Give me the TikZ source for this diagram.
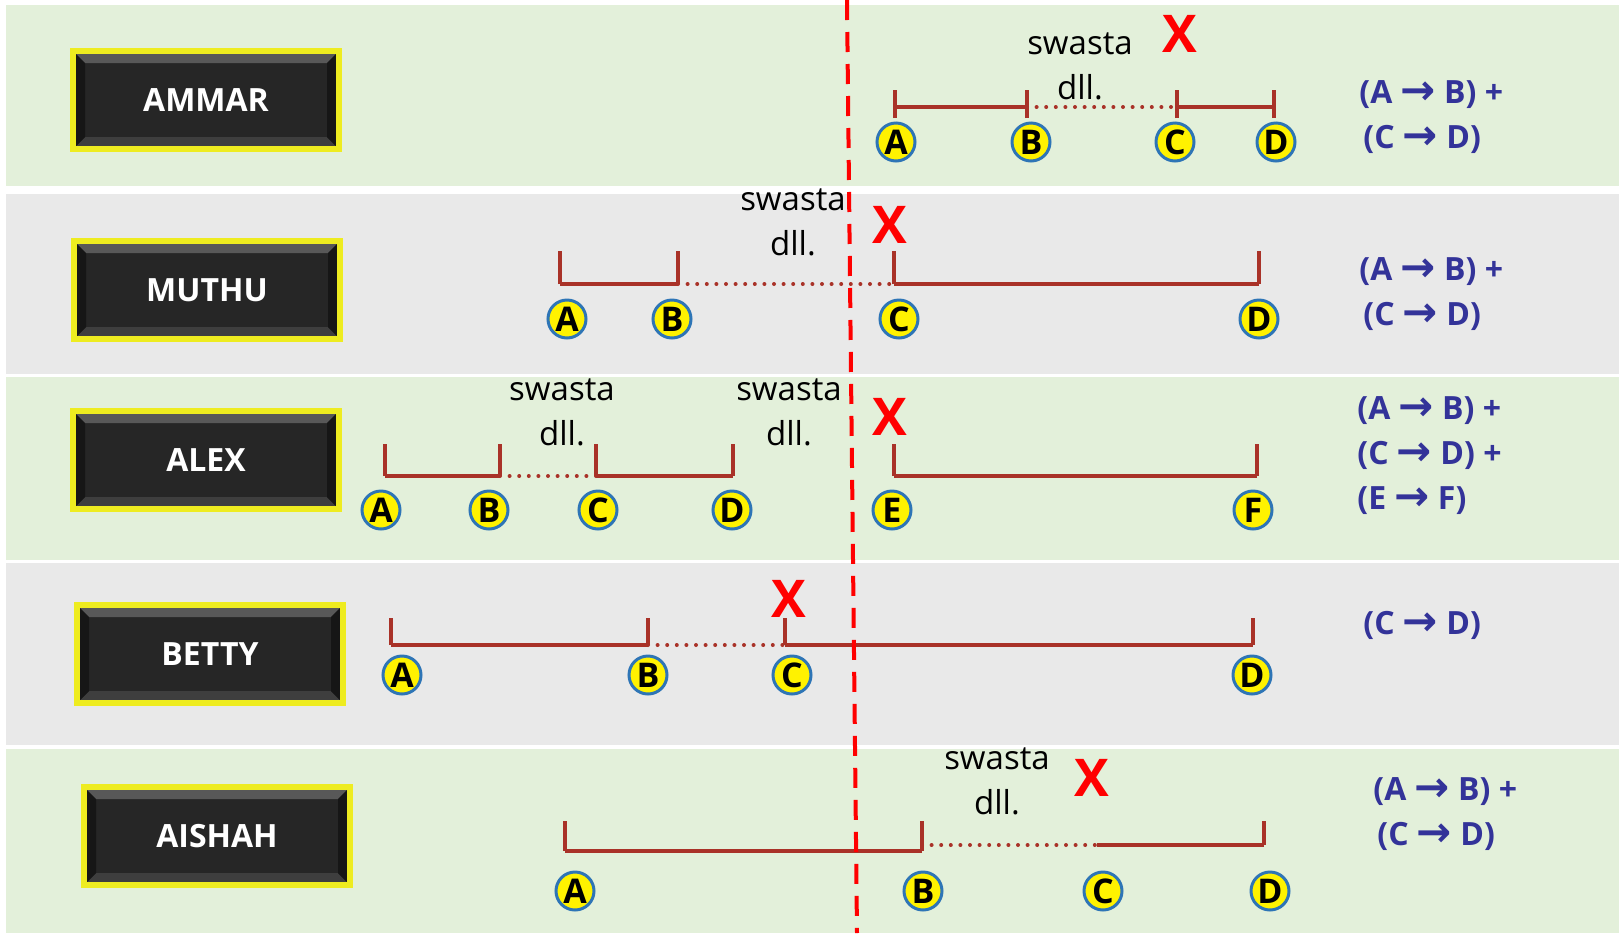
\documentclass[tikz,border=0pt]{standalone}
\usepackage{fontspec}
\setmainfont{Open Sans}
\newfontfamily\arrowfont{DejaVu Sans}

\definecolor{rowgreen}{RGB}{227,240,218}
\definecolor{rowgray}{RGB}{233,233,233}
\definecolor{segred}{RGB}{169,50,40}
\definecolor{txtblue}{RGB}{51,51,153}
\definecolor{ringblue}{RGB}{46,117,182}
\definecolor{frameyellow}{RGB}{238,236,32}
\definecolor{frameedge}{RGB}{150,150,100}
\definecolor{boxblack}{RGB}{38,38,38}
\definecolor{bevelhi}{RGB}{88,88,88}
\definecolor{bevello}{RGB}{62,62,62}
\definecolor{bevelside}{RGB}{22,22,22}

\newcommand{\arr}{\raisebox{-0.5pt}{\arrowfont\bfseries\fontsize{21}{21}\selectfont\symbol{"2192}}}

\begin{document}
\begin{tikzpicture}[x=0.5pt, y=-0.5pt,
    namebox/.style={draw=frameyellow, line width=2.6pt, fill=boxblack,
        preaction={draw=frameedge, line width=3.4pt},
        minimum width=133pt, minimum height=49pt, text=white,
        font=\bfseries\fontsize{16}{19}\selectfont,
        path picture={
            \fill[bevelhi] ([shift={(1pt,-1pt)}]path picture bounding box.north west) -- ([shift={(-1pt,-1pt)}]path picture bounding box.north east)
                -- ([shift={(-6pt,-6pt)}]path picture bounding box.north east) -- ([shift={(6pt,-6pt)}]path picture bounding box.north west) -- cycle;
            \fill[bevello] ([shift={(1pt,1pt)}]path picture bounding box.south west) -- ([shift={(-1pt,1pt)}]path picture bounding box.south east)
                -- ([shift={(-6pt,6pt)}]path picture bounding box.south east) -- ([shift={(6pt,6pt)}]path picture bounding box.south west) -- cycle;
            \fill[bevelside] ([shift={(1pt,-1pt)}]path picture bounding box.north west) -- ([shift={(6pt,-6pt)}]path picture bounding box.north west)
                -- ([shift={(6pt,6pt)}]path picture bounding box.south west) -- ([shift={(1pt,1pt)}]path picture bounding box.south west) -- cycle;
            \fill[bevelside] ([shift={(-1pt,-1pt)}]path picture bounding box.north east) -- ([shift={(-6pt,-6pt)}]path picture bounding box.north east)
                -- ([shift={(-6pt,6pt)}]path picture bounding box.south east) -- ([shift={(-1pt,1pt)}]path picture bounding box.south east) -- cycle;
        }},
    pt/.style={circle, draw=ringblue, line width=1.5pt, fill=yellow, minimum size=19pt, inner sep=0pt,
        font=\bfseries\fontsize{17}{17}\selectfont},
    span/.style={draw=segred, line width=2pt},
    gap/.style={draw=segred, line width=2pt, line cap=round, dash pattern=on 0pt off 4.8pt},
    note/.style={align=center, inner sep=0pt, font=\fontsize{16.5}{22.5}\selectfont},
    cross/.style={text=red, inner sep=0pt, font=\bfseries\fontsize{26}{26}\selectfont},
    sum/.style={anchor=west, align=left, text=txtblue, inner sep=0pt, font=\bfseries\fontsize{16}{22.5}\selectfont},
    cut/.style={draw=red, line width=2pt, dash pattern=on 10pt off 6pt}]

    \useasboundingbox (0,0) rectangle (1619,933);
    \fill[white] (0,0) rectangle (1619,933);
    % row bands
    \fill[rowgreen] (6,5) rectangle (1619,186);
    \fill[rowgray] (6,194) rectangle (1619,374);
    \fill[rowgreen] (6,377) rectangle (1619,560);
    \fill[rowgray] (6,563) rectangle (1619,745);
    \fill[rowgreen] (6,749) rectangle (1619,933);

    % names
    \node[namebox] (ammar) at (206,100) {AMMAR};
    \node[namebox] (muthu) at (207,290) {MUTHU};
    \node[namebox] (alex) at (206,460) {ALEX};
    \node[namebox] (betty) at (210,654) {BETTY};
    \node[namebox] (aishah) at (217,836) {AISHAH};

    % AMMAR
    \coordinate (am_a) at (895,107);
    \coordinate (am_b) at (1027,107);
    \coordinate (am_c) at (1177,107);
    \coordinate (am_d) at (1274,107);
    \path (am_a) edge[span] (am_b)
          (am_b) edge[gap] (am_c)
          (am_c) edge[span] (am_d);
    \foreach \t in {am_a,am_b,am_c,am_d}
        \draw[span] ([yshift=-5.5pt]\t) -- ([yshift=8.5pt]\t);
    \node[pt] (am_A) at (896,142) {A};
    \node[pt] (am_B) at (1031,142) {B};
    \node[pt] (am_C) at (1175,142) {C};
    \node[pt] (am_D) at (1276,142) {D};
    \node[note] (am_note) at (1080,66) {swasta\\dll.};
    \node[cross] (am_x) at (1180,34) {X};
    \node[sum] (am_sum) at (1359,117) {(A \arr{} B) +\\\hspace{2pt}(C \arr{} D)};

    % MUTHU
    \coordinate (mu_a) at (560,284);
    \coordinate (mu_b) at (678,284);
    \coordinate (mu_c) at (894,284);
    \coordinate (mu_d) at (1259,284);
    \path (mu_a) edge[span] (mu_b)
          (mu_b) edge[gap] (mu_c)
          (mu_c) edge[span] (mu_d);
    \foreach \t in {mu_a,mu_b,mu_c,mu_d}
        \draw[span] (\t) -- ++(0,-33);
    \node[pt] (mu_A) at (567,319) {A};
    \node[pt] (mu_B) at (672,319) {B};
    \node[pt] (mu_C) at (899,319) {C};
    \node[pt] (mu_D) at (1259,319) {D};
    \node[note] (mu_note) at (793,222) {swasta\\dll.};
    \node[cross] (mu_x) at (890,225) {X};
    \node[sum] (mu_sum) at (1359,294) {(A \arr{} B) +\\\hspace{2pt}(C \arr{} D)};

    % ALEX
    \coordinate (al_a) at (385,476);
    \coordinate (al_b) at (500,476);
    \coordinate (al_c) at (596,476);
    \coordinate (al_d) at (733,476);
    \coordinate (al_e) at (894,476);
    \coordinate (al_f) at (1257,476);
    \path (al_a) edge[span] (al_b)
          (al_b) edge[gap] (al_c)
          (al_c) edge[span] (al_d)
          (al_e) edge[span] (al_f);
    \foreach \t in {al_a,al_b,al_c,al_d,al_e,al_f}
        \draw[span] (\t) -- ++(0,-32);
    \node[pt] (al_A) at (381,510) {A};
    \node[pt] (al_B) at (489,510) {B};
    \node[pt] (al_C) at (598,510) {C};
    \node[pt] (al_D) at (732,510) {D};
    \node[pt] (al_E) at (892,510) {E};
    \node[pt] (al_F) at (1253,510) {F};
    \node[note] (al_note1) at (562,412) {swasta\\dll.};
    \node[note] (al_note2) at (789,412) {swasta\\dll.};
    \node[cross] (al_x) at (890,417) {X};
    \node[sum] (al_sum) at (1357,456) {(A \arr{} B) +\\(C \arr{} D) +\\(E \arr{} F)};

    % BETTY
    \coordinate (be_a) at (391,645);
    \coordinate (be_b) at (648,645);
    \coordinate (be_c) at (785,645);
    \coordinate (be_d) at (1253,645);
    \path (be_a) edge[span] (be_b)
          (be_b) edge[gap] (be_c)
          (be_c) edge[span] (be_d);
    \foreach \t in {be_a,be_b,be_c,be_d}
        \draw[span] (\t) -- ++(0,-27);
    \node[pt] (be_A) at (402,675) {A};
    \node[pt] (be_B) at (648,675) {B};
    \node[pt] (be_C) at (792,675) {C};
    \node[pt] (be_D) at (1252,675) {D};
    \node[cross] (be_x) at (789,599) {X};
    \node[sum] (be_sum) at (1363,625) {(C \arr{} D)};

    % AISHAH
    \coordinate (ai_a) at (565,851);
    \coordinate (ai_b) at (922,851);
    \coordinate (ai_c) at (1097,845);
    \coordinate (ai_d) at (1264,845);
    \path (ai_a) edge[span] (ai_b)
          ([yshift=3pt]ai_b) edge[gap] (ai_c)
          (ai_c) edge[span] (ai_d);
    \foreach \t in {ai_a,ai_b}
        \draw[span] (\t) -- ++(0,-30);
    \draw[span] (ai_d) -- ++(0,-24);
    \node[pt] (ai_A) at (575,891) {A};
    \node[pt] (ai_B) at (923,891) {B};
    \node[pt] (ai_C) at (1103,891) {C};
    \node[pt] (ai_D) at (1270,891) {D};
    \node[note] (ai_note) at (997,781) {swasta\\dll.};
    \node[cross] (ai_x) at (1092,778) {X};
    \node[sum] (ai_sum) at (1373,814) {(A \arr{} B) +\\\hspace{2pt}(C \arr{} D)};

    % cut-off line
    \coordinate (cut_top) at (847,0);
    \coordinate (cut_bot) at (857,933);
    \draw[cut] (cut_top) -- (cut_bot);
\end{tikzpicture}
\end{document}
